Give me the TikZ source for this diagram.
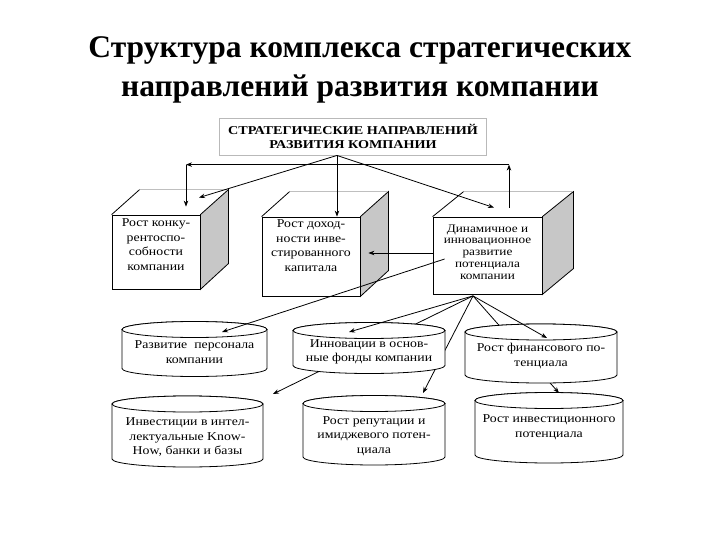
\documentclass[tikz,border=0pt]{standalone}
\usepackage{fontspec}
\setmainfont{Liberation Serif}
\newfontfamily\widefont[FakeStretch=1.15]{Liberation Serif}
\newfontfamily\widerfont[FakeStretch=1.18]{Liberation Serif}
\usetikzlibrary{calc,arrows.meta}
\pgfdeclarelayer{paper}\pgfdeclarelayer{cubes}\pgfdeclarelayer{hid}\pgfdeclarelayer{cyl}\pgfdeclarelayer{fg}
\pgfsetlayers{paper,cubes,hid,cyl,main,fg}
\tikzset{
  title/.style={align=center,font=\fontsize{31.5}{39}\selectfont\bfseries},
  topbox/.style={draw=gray!55,line width=0.9pt,align=center,minimum width=267,minimum height=37,inner sep=0pt,
    font=\widerfont\fontsize{12}{13.5}\selectfont\bfseries},
  front/.style={draw,line width=0.8pt,fill=white,align=center,inner sep=0pt,
    font=\widefont\fontsize{12}{14.8}\selectfont},
  sideface/.style={fill=black!22,draw=black,line width=0.8pt},
  edge/.style={line width=0.8pt},
  backedge/.style={draw=gray!50,line width=0.5pt},
  cylline/.style={draw=black,fill=white,line width=0.8pt},
  cyltext/.style={align=center,inner sep=0pt,font=\widefont\fontsize{12}{14.5}\selectfont},
  arr/.style={-{Stealth[length=6pt,width=4.5pt]},line width=0.8pt},
}
\newcommand\cubefaces[3]{%
\begin{pgfonlayer}{cubes}
\filldraw[sideface] (#1.north east) -- ++(#2,25) -- ++(0,-#3) -- (#1.south east) -- cycle;
\draw[edge] (#1.north west) -- ++(#2,25);
\draw[backedge] ($(#1.north west)+(#2,25)$) -- ($(#1.north east)+(#2,25)$);
\end{pgfonlayer}}
\newcommand\cylshape[4]{%
\begin{pgfonlayer}{cyl}
\filldraw[cylline] (#1-#2,#3) -- (#1-#2,#4) arc[start angle=180,end angle=360,x radius=#2,y radius=8]
  -- (#1+#2,#3) arc[start angle=0,end angle=180,x radius=#2,y radius=8] -- cycle;
\draw[cylline] (#1,#3) ellipse[x radius=#2,y radius=8];
\end{pgfonlayer}}
\begin{document}
\begin{tikzpicture}[x=1pt,y=1pt]
\begin{pgfonlayer}{paper}
\fill[white] (0,0) rectangle (720,-540);
\end{pgfonlayer}
\useasboundingbox (0,0) rectangle (720,-540);
\node[title] (ttl) at (360,-70) {Структура комплекса стратегических\\направлений развития компании};
\node[topbox] (top) at (353,-136.5) {СТРАТЕГИЧЕСКИЕ НАПРАВЛЕНИЙ\\РАЗВИТИЯ КОМПАНИИ};
% cubes
\node[front,minimum width=88,minimum height=74,text depth=15pt] (c1) at (156,-252) {Рост конку-\\рентоспо-\\собности\\компании};
\node[front,minimum width=98,minimum height=79,text depth=22pt] (c2) at (311,-256.5) {Рост доход-\\ности инве-\\стированного\\капитала};
\node[front,minimum width=109,minimum height=77,text depth=7pt,font=\widefont\fontsize{11.5}{11.8}\selectfont] (c3) at (487.5,-255.5)
  {Динамичное и\\инновационное\\развитие\\потенциала\\компании};
\cubefaces{c1}{28}{74}
\cubefaces{c2}{28}{79}
\cubefaces{c3}{31}{77}
% cylinders
\cylshape{194.5}{72.5}{-329.5}{-368.5}
\node[cyltext] (p1) at (194.5,-352) {Развитие\ \ персонала\\компании};
\cylshape{369}{76}{-330.5}{-365.5}
\node[cyltext] (p2) at (369,-352) {Инновации в основ-\\ные фонды компании};
\cylshape{541}{76}{-332}{-375}
\node[cyltext] (p3) at (541,-356) {Рост финансового по-\\тенциала};
\cylshape{187.5}{75.5}{-404}{-459}
\node[cyltext] (q1) at (187.5,-437) {Инвестиции в интел-\\лектуальные Know-\\How, банки и базы};
\cylshape{374}{71}{-403.5}{-457}
\node[cyltext] (q2) at (374,-436) {Рост репутации и\\имиджевого потен-\\циала};
\cylshape{549}{74}{-400.5}{-455}
\node[cyltext] (q3) at (549,-427) {Рост инвестиционного\\потенциала};
% coordinates
\coordinate (apex) at ($(top.south)+(-16,0)$);
\coordinate (c1tip) at ($(c1.north)+(43,17)$);
\coordinate (c3tip) at ($(c3.north)+(6.5,9)$);
\coordinate (c3up) at ($(c3.north)+(21.5,9)$);
\coordinate (rc) at ($(c3up)+(0,43)$);
\coordinate (c1down) at ($(c1.north)+(30,8)$);
\coordinate (lc) at (c1down |- rc);
\coordinate (c2side) at ($(c2.east)+(8,3.5)$);
\coordinate (fan) at ($(c3.south)+(-14.5,-1.5)$);
\coordinate (p1tip) at (222,-332);
\coordinate (p2tip) at (349,-332);
\coordinate (p3tip) at (547,-338);
\coordinate (q1tip) at (273,-394);
\coordinate (q2tip) at (423,-393);
\coordinate (q3tip) at (559,-393);
\begin{pgfonlayer}{fg}
\draw[arr] (apex) -- (c1tip);
\draw[arr] (apex) -- (apex |- c2.north);
\draw[arr] (apex) -- (c3tip);
\draw[arr] (c3up) -- (rc);
\draw[arr] (rc) -- (lc);
\draw[arr] (lc) -- (c1down);
\draw[arr] ($(c3.west)+(0,2.5)$) -- (c2side);
\draw[arr] ($(c3.west)+(12,-3.5)$) -- (p1tip);
\draw[arr] (fan) -- (p2tip);
\draw[arr] (fan) -- (p3tip);
\end{pgfonlayer}
\begin{pgfonlayer}{hid}
\draw[arr] (fan) -- (q1tip);
\draw[arr] (fan) -- (q2tip);
\draw[arr] (fan) -- (q3tip);
\end{pgfonlayer}
\end{tikzpicture}
\end{document}
